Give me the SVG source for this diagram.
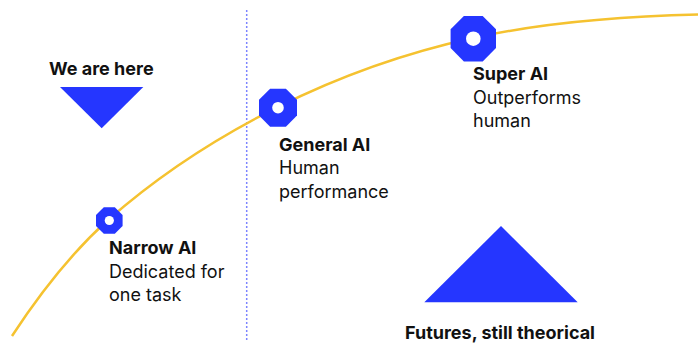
<svg xmlns="http://www.w3.org/2000/svg" width="698" height="344" viewBox="0 0 698 344">
<style>
.t{font-family:Inter,"Noto Sans","Liberation Sans",sans-serif;font-size:18px;fill:#111}
.b{font-weight:700}
.blue{fill:#2536FF}
.hole{fill:#fff}
</style>
<rect width="698" height="344" fill="#fff"/>
<g id="connectors">
<line x1="246.7" y1="10" x2="246.7" y2="340" stroke="#7C84FF" stroke-width="1.5" stroke-dasharray="2 2"/>
<path d="M12,336 C44,287 76,248.8 108,220 C164.7,170.1 221.3,135.3 278,107 C343,74.5 408,52.3 473,38 C548,21.5 623,16.2 698,14.5" fill="none" stroke="#F5C230" stroke-width="2.5"/>
</g>
<g id="we-are-here">
<text class="t b" x="49" y="75">We are here</text>
<polygon class="blue" points="60,87 143.3,87 101.7,128.3"/>
</g>
<g id="narrow-ai">
<polygon class="blue" points="114.8,207.2 122.6,215 122.6,226 114.8,233.8 103.8,233.8 96,226 96,215 103.8,207.2"/>
<circle class="hole" cx="109.3" cy="220.5" r="4.6"/>
<text class="t b" x="109" y="254">Narrow AI</text>
<text class="t" x="109" y="277.5">Dedicated for</text>
<text class="t" x="109" y="301">one task</text>
</g>
<g id="general-ai">
<polygon class="blue" points="285.9,88.7 297,99.8 297,115.6 285.9,126.7 270.1,126.7 259,115.6 259,99.8 270.1,88.7"/>
<circle class="hole" cx="278" cy="107.7" r="5.8"/>
<text class="t b" x="279" y="150.7">General AI</text>
<text class="t" x="279" y="174">Human</text>
<text class="t" x="279" y="197.5">performance</text>
</g>
<g id="super-ai">
<polygon class="blue" points="482.7,16 496,29.3 496,48.1 482.7,61.4 463.9,61.4 450.6,48.1 450.6,29.3 463.9,16"/>
<circle class="hole" cx="473.3" cy="38.7" r="7.3"/>
<text class="t b" x="473" y="80">Super AI</text>
<text class="t" x="473" y="103.5">Outperforms</text>
<text class="t" x="473" y="127">human</text>
</g>
<g id="futures">
<polygon class="blue" points="501,226 577.7,302.3 424.3,302.3"/>
<text class="t b" x="405" y="339.3">Futures, still theorical</text>
</g>
</svg>
